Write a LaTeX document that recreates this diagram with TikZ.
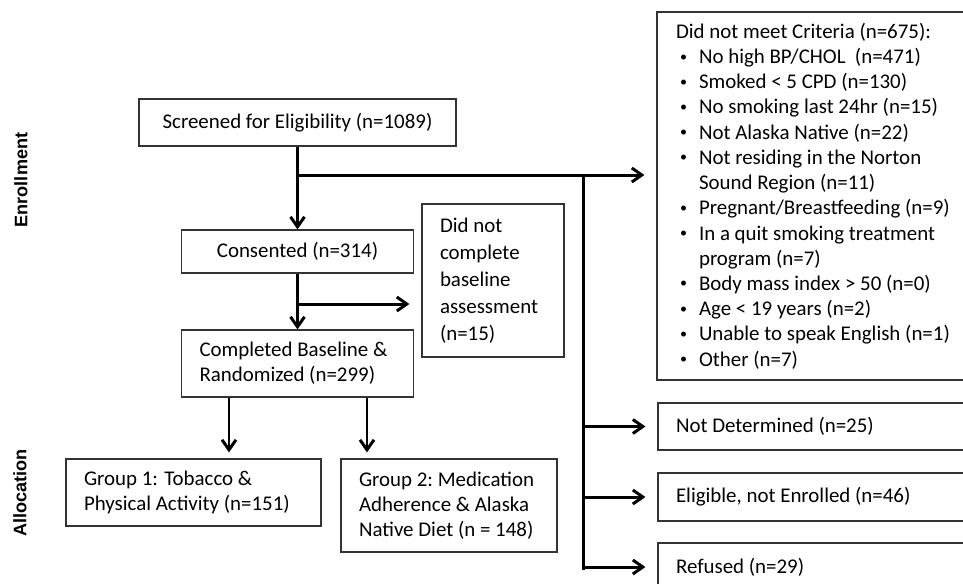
\documentclass[tikz,border=0pt]{standalone}
\usepackage{fontspec}
\setmainfont{Carlito}
\newfontfamily\phasefont{Liberation Sans}
\usetikzlibrary{arrows.meta,positioning,calc}

% bullet and indent for the criteria list
\newcommand{\critbul}{\makebox[0.46cm][l]{\hspace{0.08cm}\raisebox{0.25ex}{\fontsize{8}{8}\selectfont\textbullet}}}
\newcommand{\critind}{\hspace*{0.46cm}}

\begin{document}
\begin{tikzpicture}[x=0.02cm,y=-0.02cm,
    box/.style={draw=black!80, line width=0.7pt, inner ysep=0pt, inner xsep=0.36cm,
        font=\fontsize{11.9}{14.35}\selectfont},
    phase/.style={rotate=90, font=\phasefont\bfseries\fontsize{10.3}{12}\selectfont},
    trunk/.style={line width=1.7pt},
    flow/.style={line width=1.7pt, -{Straight Barb[length=2mm,width=2.8mm]}}]

    \useasboundingbox (0,0) rectangle (963,583);
    \clip (0,0) rectangle (963,583);

    % Phase labels
    \node[phase] (enrol) at (21,180) {Enrollment};
    \node[phase] (alloc) at (20,493) {Allocation};

    % Main flow
    \node[box, minimum width=6.34cm, minimum height=0.94cm] (screen) at (297.5,122.5)
        {Screened for Eligibility (n=1089)};
    \node[box, minimum width=4.64cm, minimum height=0.86cm] (consent) at (297.5,251.5)
        {Consented (n=314)};
    \node[box, minimum width=4.64cm, minimum height=1.34cm, text width=3.92cm, align=flush left] (baseline) at (297.5,363.5)
        {Completed Baseline \&\\Randomized (n=299)};
    \node[box, minimum width=2.84cm, minimum height=3.06cm, text width=2.12cm, align=flush left,
        font=\fontsize{11.9}{15.3}\selectfont] (nocomplete) at (493,280.5)
        {Did not\\complete\\baseline\\assessment\\(n=15)};

    % Groups
    \node[box, minimum width=5.1cm, minimum height=1.34cm, text width=4.38cm, align=flush left] (group1) at (193.5,492.5)
        {Group 1: Tobacco \&\\Physical Activity (n=151)};
    \node[box, minimum width=4.32cm, minimum height=1.86cm, text width=3.6cm, align=flush left] (group2) at (449,505.5)
        {Group~2:~Medication\\Adherence \& Alaska\\Native Diet (n~=~148)};

    % Excluded at screening
    \node[box, minimum width=6.8cm, minimum height=7.36cm, text width=6.04cm, align=flush left, inner xsep=0.38cm] (criteria) at (827,196)
        {Did not meet Criteria (n=675):\\
        \critbul No high BP/CHOL\ \ (n=471)\\
        \critbul Smoked < 5 CPD (n=130)\\
        \critbul No smoking last 24hr (n=15)\\
        \critbul Not Alaska Native (n=22)\\
        \critbul Not residing in the Norton\\
        \critind Sound Region (n=11)\\
        \critbul Pregnant/Breastfeeding (n=9)\\
        \critbul In a quit smoking treatment\\
        \critind program (n=7)\\
        \critbul Body mass index > 50 (n=0)\\
        \critbul Age < 19 years (n=2)\\
        \critbul Unable to speak English (n=1)\\
        \critbul Other (n=7)};
    \node[box, minimum width=6.84cm, minimum height=0.94cm, text width=6.12cm, align=flush left] (notdet) at (829,426.5)
        {Not Determined (n=25)};
    \node[box, minimum width=6.84cm, minimum height=0.96cm, text width=6.12cm, align=flush left] (eligible) at (829,497)
        {Eligible, not Enrolled (n=46)};
    \node[box, minimum width=6.84cm, minimum height=0.96cm, text width=6.12cm, align=flush left] (refused) at (829,567)
        {Refused (n=29)};

    % Branch points
    \coordinate (b1) at (297.5,175);
    \coordinate (split) at (583,175);
    \coordinate (b2) at (297.5,304);
    \coordinate (g1) at (229,0);
    \coordinate (g2) at (367,0);

    % Connectors
    \draw[flow] (screen.south) -- (consent.north);
    \draw[flow] (consent.south) -- (baseline.north);
    \draw[trunk] (b1) -- (split) -- ($(split |- refused.west)+(0,3)$);
    \draw[flow, shorten >=0.24cm] (split) -- (split -| criteria.west);
    \draw[flow, shorten >=0.24cm] (split |- notdet.west) -- (notdet.west);
    \draw[flow, shorten >=0.24cm] (split |- eligible.west) -- (eligible.west);
    \draw[flow, shorten >=0.24cm] (split |- refused.west) -- (refused.west);
    \draw[flow, shorten >=0.24cm] (b2) -- (b2 -| nocomplete.west);
    \draw[flow, shorten >=0.12cm] (baseline.south -| g1) -- (group1.north -| g1);
    \draw[flow, shorten >=0.12cm] (baseline.south -| g2) -- (group2.north -| g2);

\end{tikzpicture}
\end{document}
